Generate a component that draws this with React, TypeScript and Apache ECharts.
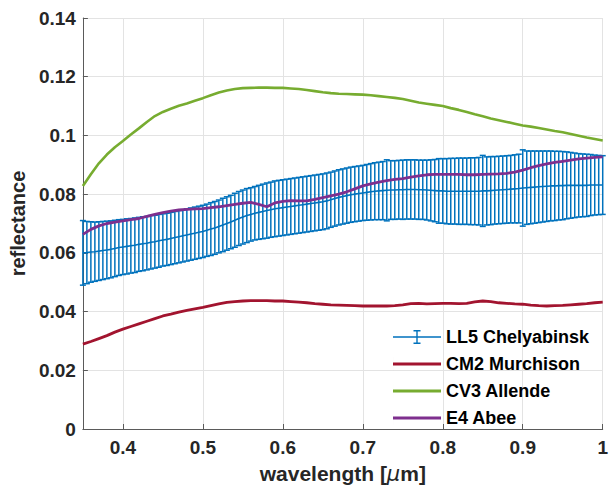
import React, { useEffect, useRef } from "react";
import * as echarts from "echarts";

// ---------- data ----------
const X_TICKS = [0.4, 0.5, 0.6, 0.7, 0.8, 0.9, 1.0];
const Y_MIN = 0;
const Y_MAX = 0.14;
const Y_STEP = 0.02;

// coarse wavelength grid (0.35 .. 1.00 step 0.01) for the smooth spectra
const WL_START = 0.35;
const WL_STEP_COARSE = 0.01;
const WL_STEP_FINE = 0.005;

const CM2_MURCHISON = [
  0.0289, 0.0298, 0.0308, 0.0318, 0.0330, 0.0340, 0.0349, 0.0358, 0.0367, 0.0376,
  0.0385, 0.0391, 0.0398, 0.0404, 0.0409, 0.0414, 0.0420, 0.0426, 0.0431, 0.0434,
  0.0436, 0.0437, 0.0437, 0.0437, 0.0436, 0.0436, 0.0434, 0.0432, 0.0430, 0.0427,
  0.0425, 0.0423, 0.0422, 0.0421, 0.0420, 0.0419, 0.0419, 0.0419, 0.0419, 0.0420,
  0.0423, 0.0427, 0.0428, 0.0426, 0.0427, 0.0428, 0.0428, 0.0427, 0.0428, 0.0433,
  0.0436, 0.0434, 0.0430, 0.0428, 0.0426, 0.0425, 0.0422, 0.0420, 0.0419, 0.0420,
  0.0421, 0.0423, 0.0425, 0.0427, 0.0430, 0.0432,
];

const CV3_ALLENDE = [
  0.0828, 0.0868, 0.0905, 0.0935, 0.0960, 0.0981, 0.1003, 0.1024, 0.1046, 0.1066,
  0.1080, 0.1091, 0.1101, 0.1109, 0.1118, 0.1127, 0.1137, 0.1146, 0.1153, 0.1158,
  0.1161, 0.1162, 0.1163, 0.1163, 0.1162, 0.1162, 0.1160, 0.1158, 0.1155, 0.1151,
  0.1147, 0.1144, 0.1142, 0.1141, 0.1140, 0.1139, 0.1137, 0.1134, 0.1131, 0.1128,
  0.1124, 0.1118, 0.1112, 0.1108, 0.1104, 0.1100, 0.1093, 0.1087, 0.1080, 0.1072,
  0.1065, 0.1058, 0.1052, 0.1046, 0.1040, 0.1034, 0.1030, 0.1025, 0.1020, 0.1015,
  0.1011, 0.1005, 0.0999, 0.0993, 0.0988, 0.0983,
];

const E4_ABEE = [
  0.0663, 0.0680, 0.0692, 0.0700, 0.0705, 0.0709, 0.0713, 0.0717, 0.0724, 0.0731,
  0.0737, 0.0742, 0.0746, 0.0748, 0.0750, 0.0751, 0.0754, 0.0757, 0.0761, 0.0765,
  0.0769, 0.0772, 0.0765, 0.0757, 0.0770, 0.0775, 0.0778, 0.0777, 0.0777, 0.0782,
  0.0788, 0.0794, 0.0800, 0.0808, 0.0818, 0.0828, 0.0835, 0.0841, 0.0846, 0.0850,
  0.0853, 0.0858, 0.0862, 0.0866, 0.0867, 0.0867, 0.0867, 0.0867, 0.0866, 0.0866,
  0.0867, 0.0868, 0.0869, 0.0871, 0.0875, 0.0882, 0.0890, 0.0897, 0.0903, 0.0908,
  0.0912, 0.0916, 0.0920, 0.0923, 0.0925, 0.0927,
];

// fine grid (0.35 .. 1.00 step 0.005) for LL5 Chelyabinsk mean and error
const LL5_MEAN = [
  0.0600, 0.0601, 0.0603, 0.0604, 0.0606, 0.0608, 0.0610, 0.0612, 0.0615, 0.0618,
  0.0620, 0.0622, 0.0624, 0.0626, 0.0629, 0.0631, 0.0633, 0.0636, 0.0638, 0.0641,
  0.0644, 0.0646, 0.0649, 0.0652, 0.0655, 0.0658, 0.0661, 0.0664, 0.0667, 0.0670,
  0.0673, 0.0677, 0.0681, 0.0685, 0.0690, 0.0695, 0.0700, 0.0705, 0.0711, 0.0717,
  0.0722, 0.0727, 0.0731, 0.0735, 0.0738, 0.0741, 0.0744, 0.0747, 0.0750, 0.0752,
  0.0754, 0.0756, 0.0758, 0.0760, 0.0762, 0.0764, 0.0766, 0.0768, 0.0770, 0.0772,
  0.0774, 0.0777, 0.0781, 0.0785, 0.0789, 0.0792, 0.0795, 0.0798, 0.0800, 0.0802,
  0.0804, 0.0806, 0.0808, 0.0810, 0.0811, 0.0812, 0.0813, 0.0814, 0.0814, 0.0815,
  0.0815, 0.0816, 0.0816, 0.0816, 0.0815, 0.0815, 0.0814, 0.0813, 0.0812, 0.0811,
  0.0811, 0.0810, 0.0810, 0.0810, 0.0810, 0.0810, 0.0810, 0.0810, 0.0810, 0.0810,
  0.0811, 0.0811, 0.0812, 0.0813, 0.0814, 0.0815, 0.0816, 0.0817, 0.0818, 0.0819,
  0.0821, 0.0822, 0.0823, 0.0824, 0.0825, 0.0826, 0.0827, 0.0828, 0.0828, 0.0829,
  0.0829, 0.0830, 0.0830, 0.0830, 0.0830, 0.0830, 0.0830, 0.0831, 0.0831, 0.0831,
  0.0831,
];

const LL5_ERR = [
  0.0110, 0.0106, 0.0103, 0.0101, 0.0100, 0.0099, 0.0098, 0.0097, 0.0096, 0.0095,
  0.0094, 0.0094, 0.0093, 0.0093, 0.0092, 0.0092, 0.0091, 0.0091, 0.0090, 0.0090,
  0.0089, 0.0089, 0.0089, 0.0089, 0.0089, 0.0089, 0.0089, 0.0089, 0.0089, 0.0089,
  0.0089, 0.0089, 0.0090, 0.0090, 0.0090, 0.0091, 0.0091, 0.0091, 0.0092, 0.0092,
  0.0092, 0.0092, 0.0091, 0.0091, 0.0092, 0.0093, 0.0094, 0.0094, 0.0095, 0.0095,
  0.0095, 0.0095, 0.0095, 0.0095, 0.0095, 0.0095, 0.0095, 0.0095, 0.0095, 0.0095,
  0.0095, 0.0095, 0.0094, 0.0094, 0.0094, 0.0094, 0.0094, 0.0094, 0.0094, 0.0094,
  0.0094, 0.0095, 0.0096, 0.0097, 0.0098, 0.0099, 0.0104, 0.0100, 0.0100, 0.0100,
  0.0101, 0.0101, 0.0101, 0.0101, 0.0101, 0.0101, 0.0102, 0.0104, 0.0106, 0.0110,
  0.0110, 0.0111, 0.0112, 0.0112, 0.0113, 0.0113, 0.0113, 0.0114, 0.0114, 0.0115,
  0.0121, 0.0116, 0.0116, 0.0115, 0.0115, 0.0115, 0.0115, 0.0115, 0.0116, 0.0117,
  0.0130, 0.0125, 0.0124, 0.0123, 0.0122, 0.0121, 0.0120, 0.0119, 0.0118, 0.0117,
  0.0116, 0.0114, 0.0112, 0.0110, 0.0108, 0.0107, 0.0106, 0.0104, 0.0102, 0.0101,
  0.0100,
];

const NAMES = ["LL5 Chelyabinsk", "CM2 Murchison", "CV3 Allende", "E4 Abee"];

// ---------- styling ----------
const BLUE = "#0072BD";
const RED = "#A2142F";
const GREEN = "#77AC30";
const PURPLE = "#7E2F8E";
const TEXT = "#262626";
const FONT = "'Liberation Sans', Arial, Helvetica, sans-serif";

const ICON_ERRBAR =
  "path://M0,6.3H48V7.7H0Z M23.3,0H24.7V14H23.3Z M20.5,0H27.5V1.4H20.5Z M20.5,12.6H27.5V14H20.5Z";
const ICON_LINE = "path://M0,5.5H48V8.5H0Z M0,0H0.01V14H0Z";

const wlCoarse = CV3_ALLENDE.map((_, i) => +(WL_START + i * WL_STEP_COARSE).toFixed(3));
const wlFine = LL5_MEAN.map((_, i) => +(WL_START + i * WL_STEP_FINE).toFixed(3));

const pair = (xs: number[], ys: number[]) => xs.map((x, i) => [x, ys[i]]);

export default function App() {
  const ref = useRef<HTMLDivElement>(null);

  useEffect(() => {
    if (!ref.current) return;
    const chart = echarts.init(ref.current, undefined, { renderer: "svg" });

    const errData = wlFine.map((x, i) => [x, LL5_MEAN[i] - LL5_ERR[i], LL5_MEAN[i] + LL5_ERR[i]]);

    const lineSeries = (name: string, data: number[][], color: string, width: number) => ({
      type: "line",
      name,
      data,
      symbol: "none",
      showSymbol: false,
      smooth: false,
      color,
      lineStyle: { color, width },
      itemStyle: { color },
      z: 3,
    });

    const option: any = {
      animation: false,
      backgroundColor: "#ffffff",
      textStyle: { fontFamily: FONT },
      grid: { left: 78, right: 6, top: 18, bottom: 59, containLabel: false },
      legend: {
        orient: "vertical",
        left: 393,
        top: 328,
        padding: 0,
        itemWidth: 48,
        itemHeight: 14,
        itemGap: 9,
        selectedMode: false,
        textStyle: { color: "#000", fontSize: 18, fontWeight: "bold", fontFamily: FONT },
        data: [
          { name: NAMES[0], icon: ICON_ERRBAR, itemStyle: { color: BLUE } },
          { name: NAMES[1], icon: ICON_LINE, itemStyle: { color: RED } },
          { name: NAMES[2], icon: ICON_LINE, itemStyle: { color: GREEN } },
          { name: NAMES[3], icon: ICON_LINE, itemStyle: { color: PURPLE } },
        ],
      },
      xAxis: {
        type: "value",
        min: WL_START,
        max: 1.0,
        name: "{a|wavelength [}{b|μ}{a|m]}",
        nameLocation: "middle",
        nameGap: 34,
        nameTextStyle: {
          rich: {
            a: { fontSize: 21, fontWeight: "bold", color: TEXT, fontFamily: FONT },
            b: { fontSize: 21, fontStyle: "italic", color: TEXT, fontFamily: "'DejaVu Sans', sans-serif" },
          },
        },
        axisLine: { show: true, lineStyle: { color: "#5a5a5a", width: 1 } },
        axisTick: { show: true, inside: true, length: 5, customValues: X_TICKS, lineStyle: { color: "#5a5a5a" } },
        axisLabel: {
          customValues: X_TICKS,
          color: TEXT,
          fontSize: 19,
          fontWeight: "bold",
          fontFamily: FONT,
          margin: 9,
          formatter: (v: number) => String(+v.toFixed(2)),
        },
        splitLine: { show: true, lineStyle: { color: "#e3e3e3", width: 1 } },
      },
      yAxis: {
        type: "value",
        min: Y_MIN,
        max: Y_MAX,
        interval: Y_STEP,
        name: "reflectance",
        nameLocation: "middle",
        nameGap: 53,
        nameTextStyle: { fontSize: 20, fontWeight: "bold", color: TEXT, fontFamily: FONT },
        axisLine: { show: true, lineStyle: { color: "#5a5a5a", width: 1 } },
        axisTick: { show: true, inside: true, length: 5, lineStyle: { color: "#5a5a5a" } },
        axisLabel: {
          color: TEXT,
          fontSize: 19,
          fontWeight: "bold",
          fontFamily: FONT,
          margin: 7,
          formatter: (v: number) => String(+v.toFixed(2)),
        },
        splitLine: { show: true, lineStyle: { color: "#e3e3e3", width: 1 } },
      },
      series: [
        {
          type: "custom",
          name: NAMES[0],
          data: errData,
          encode: { x: 0, y: [1, 2] },
          itemStyle: { color: BLUE },
          color: BLUE,
          z: 2,
          renderItem: (_params: any, api: any) => {
            const x = api.value(0);
            const lo = api.coord([x, api.value(1)]);
            const hi = api.coord([x, api.value(2)]);
            const w = 3;
            const style = { stroke: BLUE, lineWidth: 1.5, fill: "none" };
            return {
              type: "group",
              children: [
                { type: "line", shape: { x1: lo[0], y1: lo[1], x2: hi[0], y2: hi[1] }, style },
                { type: "line", shape: { x1: lo[0] - w, y1: lo[1], x2: lo[0] + w, y2: lo[1] }, style },
                { type: "line", shape: { x1: hi[0] - w, y1: hi[1], x2: hi[0] + w, y2: hi[1] }, style },
              ],
            };
          },
        },
        { ...lineSeries(NAMES[0], pair(wlFine, LL5_MEAN), BLUE, 1.6), z: 2 },
        lineSeries(NAMES[1], pair(wlCoarse, CM2_MURCHISON), RED, 2.8),
        lineSeries(NAMES[2], pair(wlCoarse, CV3_ALLENDE), GREEN, 2.6),
        lineSeries(NAMES[3], pair(wlCoarse, E4_ABEE), PURPLE, 2.8),
      ],
    };

    chart.setOption(option);
    return () => chart.dispose();
  }, []);

  return <div ref={ref} style={{ width: 611, height: 489, position: "absolute", left: 0, top: 0 }} />;
}
